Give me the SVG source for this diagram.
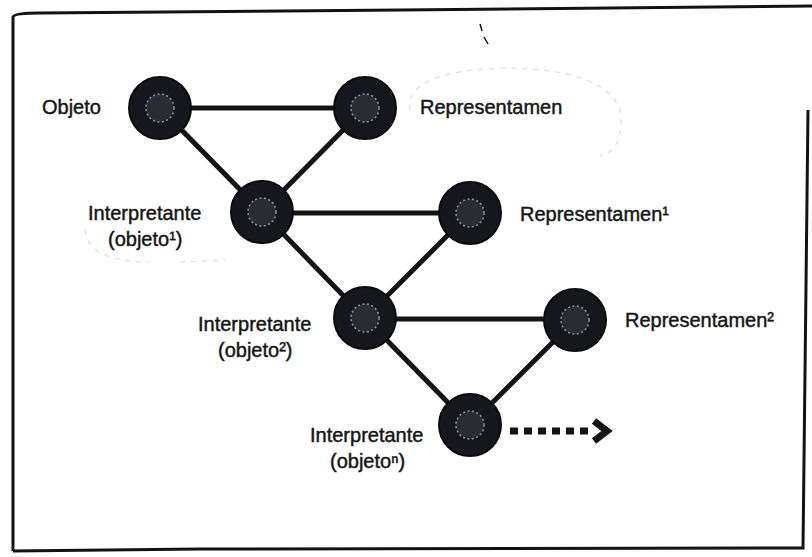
<svg xmlns="http://www.w3.org/2000/svg" width="812" height="557" viewBox="0 0 812 557">
<defs>
<style>
.lbl{font-family:"Liberation Sans",Arial,sans-serif;font-size:20px;fill:#161616;stroke:#161616;stroke-width:0.45;}
.edge{stroke:#141414;stroke-width:5;stroke-linecap:round;fill:none;}
.node{fill:#16171d;stroke:#0c0c0e;stroke-width:2;}
.core{fill:#2a2c33;stroke:#8a8c92;stroke-width:1.6;stroke-dasharray:2 2.5;}
.ghost{fill:none;stroke:#e0dcdc;stroke-width:1.2;stroke-dasharray:5 6;}
</style>
</defs>
<rect width="812" height="557" fill="#ffffff"/>
<g id="frame" fill="none" stroke="#121212" stroke-width="3">
<path d="M13,551 L13,17 Q14,13 40,13 L400,10 L812,6"/>
<path d="M13,551 L200,549 L803,548 L808,110"/>
<path d="M480,24 L482,31 M484,37 L488,44" stroke-width="1.5"/>
</g>
<g id="ghosts">
<path class="ghost" d="M410,110 Q405,72 500,68 Q605,68 620,110 Q625,150 600,156"/>
<path class="ghost" d="M85,230 Q88,262 150,262 M180,262 L225,260"/>
</g>
<g id="connectors">
<line class="edge" x1="160" y1="108" x2="365" y2="108"/>
<line class="edge" x1="160" y1="108" x2="262" y2="212"/>
<line class="edge" x1="365" y1="108" x2="262" y2="212"/>
<line class="edge" x1="262" y1="213" x2="470" y2="213"/>
<line class="edge" x1="262" y1="212" x2="365" y2="318"/>
<line class="edge" x1="470" y1="213" x2="365" y2="318"/>
<line class="edge" x1="365" y1="319" x2="575" y2="319"/>
<line class="edge" x1="365" y1="318" x2="470" y2="425"/>
<line class="edge" x1="575" y1="320" x2="470" y2="425"/>
<line x1="510" y1="431" x2="590" y2="431" stroke="#141414" stroke-width="7" stroke-dasharray="8 6"/>
<path d="M594,421 L607,431 L594,441" fill="none" stroke="#141414" stroke-width="7" stroke-linejoin="miter"/>
</g>
<g id="n-objeto">
<circle class="node" cx="160" cy="108" r="31"/>
<circle class="core" cx="160" cy="108" r="14"/>
<text class="lbl" x="42" y="114">Objeto</text>
</g>
<g id="n-repr">
<circle class="node" cx="365" cy="108" r="31"/>
<circle class="core" cx="365" cy="108" r="14"/>
<text class="lbl" x="420" y="114">Representamen</text>
</g>
<g id="n-interp1">
<circle class="node" cx="262" cy="212" r="31"/>
<circle class="core" cx="262" cy="212" r="14"/>
<text class="lbl" x="88" y="220">Interpretante</text>
<text class="lbl" x="108" y="246">(objeto¹)</text>
</g>
<g id="n-repr1">
<circle class="node" cx="470" cy="213" r="31"/>
<circle class="core" cx="470" cy="213" r="14"/>
<text class="lbl" x="520" y="221">Representamen¹</text>
</g>
<g id="n-interp2">
<circle class="node" cx="365" cy="318" r="31"/>
<circle class="core" cx="365" cy="318" r="14"/>
<text class="lbl" x="198" y="331">Interpretante</text>
<text class="lbl" x="218" y="357">(objeto²)</text>
</g>
<g id="n-repr2">
<circle class="node" cx="575" cy="320" r="31"/>
<circle class="core" cx="575" cy="320" r="14"/>
<text class="lbl" x="625" y="327">Representamen²</text>
</g>
<g id="n-interpn">
<circle class="node" cx="470" cy="425" r="31"/>
<circle class="core" cx="470" cy="425" r="14"/>
<text class="lbl" x="310" y="442">Interpretante</text>
<text class="lbl" x="330" y="468">(objetoⁿ)</text>
</g>
</svg>
